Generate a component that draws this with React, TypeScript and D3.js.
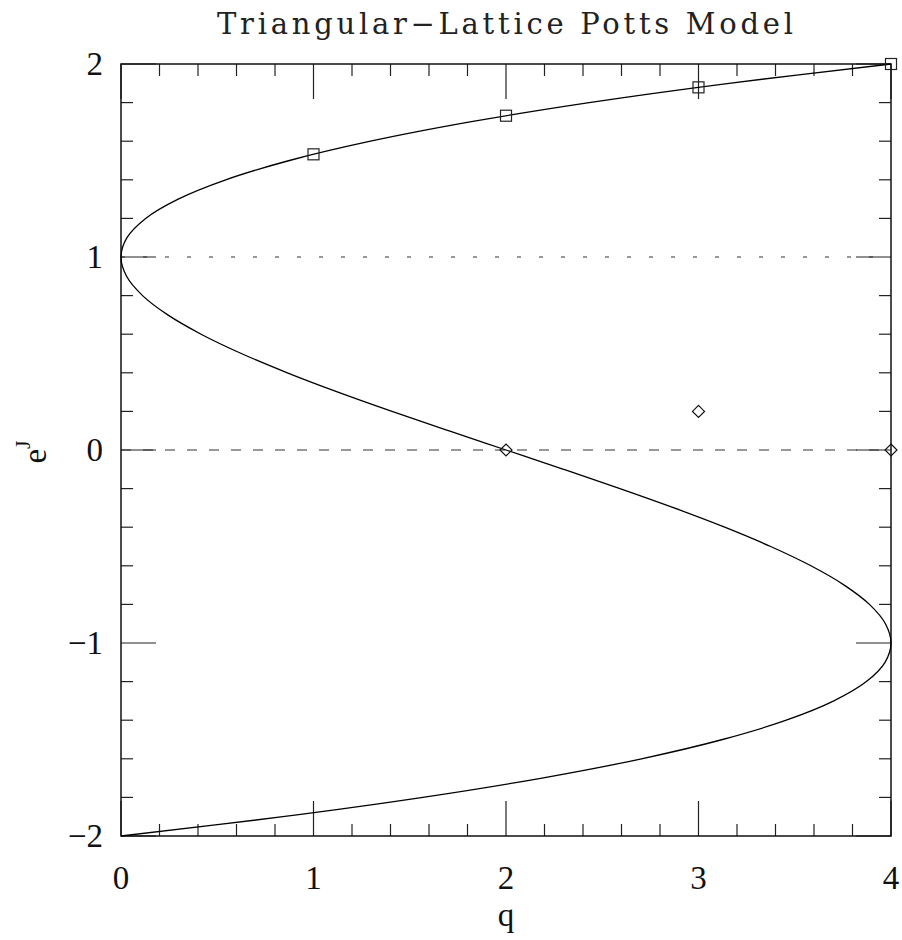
import React from 'react';
import * as d3 from 'd3';

// curve: e^J on the vertical axis, q on the horizontal one
const curveEJ = [
  -2.0, -1.9, -1.8, -1.7, -1.6, -1.5, -1.4, -1.3, -1.2, -1.1, -1.0,
  -0.9, -0.8, -0.7, -0.6, -0.5, -0.4, -0.3, -0.2, -0.1, 0.0,
  0.1, 0.2, 0.3, 0.4, 0.5, 0.6, 0.7, 0.8, 0.9, 1.0,
  1.1, 1.2, 1.3, 1.4, 1.5, 1.6, 1.7, 1.8, 1.9, 2.0,
];
const curveQ = [
  0, 0.841, 1.568, 2.187, 2.704, 3.125, 3.456, 3.703, 3.872, 3.969, 4.0,
  3.971, 3.888, 3.757, 3.584, 3.375, 3.136, 2.873, 2.592, 2.299, 2.0,
  1.701, 1.408, 1.127, 0.864, 0.625, 0.416, 0.243, 0.112, 0.029, 0,
  0.031, 0.128, 0.297, 0.544, 0.875, 1.296, 1.813, 2.432, 3.159, 4.0,
];

const squareQ = [1, 2, 3, 4];
const squareEJ = [1.532, 1.732, 1.879, 2.0];

const diamondQ = [2, 3, 4];
const diamondEJ = [0, 0.2, 0];

const xTicks = [0, 1, 2, 3, 4];
const yTicks = [-2, -1, 0, 1, 2];

const W = 902;
const H = 940;
const left = 121;
const right = 891;
const top = 64;
const bottom = 836;

const App = () => {
  const x = d3.scaleLinear().domain([0, 4]).range([left, right]);
  const y = d3.scaleLinear().domain([-2, 2]).range([bottom, top]);

  const line = d3
    .line<number>()
    .x((d, i) => x(curveQ[i]))
    .y((d) => y(d))
    .curve(d3.curveCatmullRom.alpha(0.5));

  const minorX = d3.range(0, 4.001, 0.2);
  const minorY = d3.range(-2, 2.001, 0.2);
  const majorLen = 35;
  const minorLen = 12;
  const isMajor = (v: number) => Math.abs(v - Math.round(v)) < 1e-6;

  const serif = "'Liberation Serif', 'DejaVu Serif', serif";

  return (
    <svg
      width={W}
      height={H}
      style={{ position: 'absolute', left: 0, top: 0, background: '#fff' }}
    >
      <text
        x={(left + right) / 2 - 1}
        y={34}
        textAnchor="middle"
        fontFamily="'DejaVu Serif', serif"
        fontSize={29}
        fontWeight={300}
        textLength={576}
        lengthAdjust="spacing"
        fill="#222"
      >
        Triangular−Lattice Potts Model
      </text>

      {/* reference lines */}
      <line x1={x(0)} x2={x(4)} y1={y(1)} y2={y(1)} stroke="#333" strokeWidth={1.2} strokeDasharray="4 18" />
      <line x1={x(0)} x2={x(4)} y1={y(0)} y2={y(0)} stroke="#333" strokeWidth={1.2} strokeDasharray="10 12" />

      {/* ticks */}
      <g stroke="#222" strokeWidth={1.2}>
        {minorX.map((v) => {
          const l = isMajor(v) ? majorLen : minorLen;
          return (
            <g key={'x' + v}>
              <line x1={x(v)} x2={x(v)} y1={bottom} y2={bottom - l} />
              <line x1={x(v)} x2={x(v)} y1={top} y2={top + l} />
            </g>
          );
        })}
        {minorY.map((v) => {
          const l = isMajor(v) ? majorLen : minorLen;
          return (
            <g key={'y' + v}>
              <line x1={left} x2={left + l} y1={y(v)} y2={y(v)} />
              <line x1={right} x2={right - l} y1={y(v)} y2={y(v)} />
            </g>
          );
        })}
      </g>

      <rect x={left} y={top} width={right - left} height={bottom - top} fill="none" stroke="#111" strokeWidth={1.5} />

      <path d={line(curveEJ) || ''} fill="none" stroke="#000" strokeWidth={1.3} />

      {squareQ.map((q, i) => (
        <rect
          key={'s' + i}
          x={x(q) - 5.5}
          y={y(squareEJ[i]) - 5.5}
          width={11}
          height={11}
          fill="none"
          stroke="#222"
          strokeWidth={1.2}
        />
      ))}
      {diamondQ.map((q, i) => (
        <path
          key={'d' + i}
          d={`M${x(q)},${y(diamondEJ[i]) - 6}L${x(q) + 6},${y(diamondEJ[i])}L${x(q)},${y(diamondEJ[i]) + 6}L${x(q) - 6},${y(diamondEJ[i])}Z`}
          fill="none"
          stroke="#111"
          strokeWidth={1.2}
        />
      ))}

      {/* tick labels */}
      <g fontFamily={serif} fontSize={33} fill="#111">
        {xTicks.map((v) => (
          <text key={'xl' + v} x={x(v)} y={889} textAnchor="middle">
            {v}
          </text>
        ))}
        {yTicks.map((v) => (
          <text key={'yl' + v} x={103} y={y(v) + 11} textAnchor="end">
            {v < 0 ? '−' + Math.abs(v) : String(v)}
          </text>
        ))}
      </g>

      <text x={(left + right) / 2} y={926} textAnchor="middle" fontFamily={serif} fontSize={33} fill="#111">
        q
      </text>
      <text
        transform={`translate(46, 452) rotate(-90)`}
        textAnchor="middle"
        fontFamily={serif}
        fontSize={33}
        fill="#111"
      >
        e
        <tspan fontSize={22} dy={-16}>
          J
        </tspan>
      </text>
    </svg>
  );
};

export default App;
